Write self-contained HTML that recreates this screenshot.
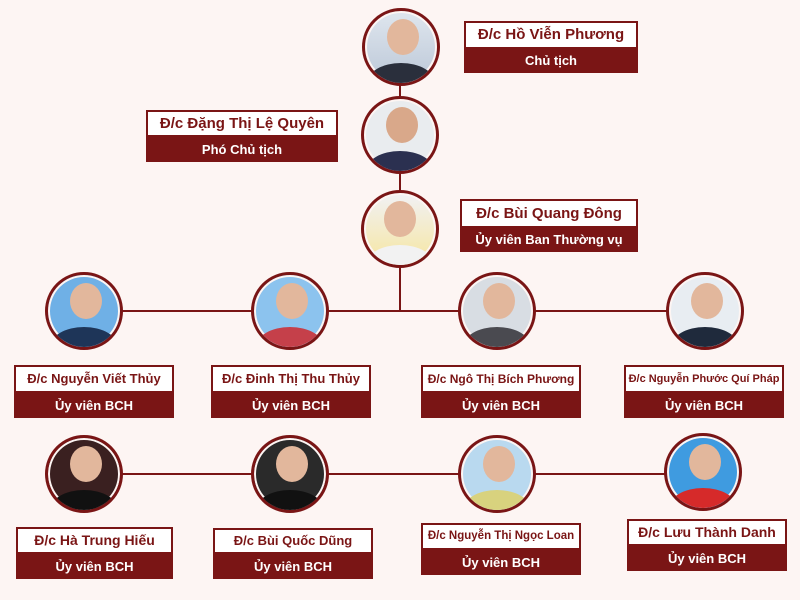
<!DOCTYPE html>
<html><head><meta charset="utf-8"><style>
body{margin:0;width:800px;height:600px;background:#fdf5f3;position:relative;overflow:hidden;font-family:"Liberation Sans","DejaVu Sans",sans-serif;}
.l{position:absolute;background:#7a1515;}
.c{position:absolute;width:72px;height:72px;border:3px solid #7a1515;border-radius:50%;box-shadow:0 0 0 2px #fdf5f3 inset;overflow:hidden}
.c i{position:absolute;left:14px;top:8px;width:32px;height:36px;border-radius:50%;background:#e2b79c}
.c b{position:absolute;left:2px;right:2px;bottom:-20px;height:40px;border-radius:50% 50% 0 0;background:#2a2f3c}
.lb{position:absolute;}
.lb .n{background:#fff;border:2px solid #7a1515;color:#7a1515;font-weight:bold;text-align:center;box-sizing:border-box;white-space:nowrap;font-size:14px;}
.lb .r{background:#7a1515;color:#fff;font-weight:bold;text-align:center;font-size:13px;}
</style></head><body>
<div class="l" style="left:399px;top:80px;width:2px;height:232px"></div>
<div class="l" style="left:84px;top:310px;width:621px;height:2px"></div>
<div class="l" style="left:84px;top:473px;width:619px;height:2px"></div>

<div class="c" style="left:362px;top:8px;background:linear-gradient(#dfe6ee,#bcc8d8)"><i style="left:22px"></i><b></b></div>
<div class="c" style="left:361px;top:96px;background:#e9ecef"><i style="left:22px;background:#d9a88a"></i><b style="background:#2b3050"></b></div>
<div class="c" style="left:361px;top:190px;background:linear-gradient(#f1f1f5,#f6e6a0)"><i style="left:20px"></i><b style="background:#f2f2f2"></b></div>

<div class="c" style="left:45px;top:272px;background:#6fb0e6"><i style="left:22px"></i><b style="background:#1e3558"></b></div>
<div class="c" style="left:251px;top:272px;background:#8cc3ee"><i style="left:22px"></i><b style="background:#c5404a"></b></div>
<div class="c" style="left:458px;top:272px;background:#d8dde3"><i style="left:22px"></i><b style="background:#4a4a50"></b></div>
<div class="c" style="left:666px;top:272px;background:#e8edf2"><i style="left:22px"></i><b style="background:#1f2a3c"></b></div>

<div class="c" style="left:45px;top:435px;background:#3a2020"><i style="left:22px"></i><b style="background:#111"></b></div>
<div class="c" style="left:251px;top:435px;background:#2a2a2a"><i style="left:22px"></i><b style="background:#111"></b></div>
<div class="c" style="left:458px;top:435px;background:#b9d9ef"><i style="left:22px"></i><b style="background:#d8d27e"></b></div>
<div class="c" style="left:664px;top:433px;background:#3f9be0"><i style="left:22px"></i><b style="background:#d62a2a"></b></div>

<div class="lb" style="left:464px;top:21px;width:174px"><div class="n" style="height:28px;line-height:24px;font-size:15px">Đ/c Hồ Viễn Phương</div><div class="r" style="height:24px;line-height:24px">Chủ tịch</div></div>
<div class="lb" style="left:146px;top:110px;width:192px"><div class="n" style="height:27px;line-height:23px;font-size:15px">Đ/c Đặng Thị Lệ Quyên</div><div class="r" style="height:25px;line-height:25px">Phó Chủ tịch</div></div>
<div class="lb" style="left:460px;top:199px;width:178px"><div class="n" style="height:29px;line-height:25px;font-size:15px">Đ/c Bùi Quang Đông</div><div class="r" style="height:24px;line-height:24px">Ủy viên Ban Thường vụ</div></div>

<div class="lb" style="left:14px;top:365px;width:160px"><div class="n" style="height:28px;line-height:24px;font-size:13px">Đ/c Nguyễn Viết Thủy</div><div class="r" style="height:25px;line-height:25px">Ủy viên BCH</div></div>
<div class="lb" style="left:211px;top:365px;width:160px"><div class="n" style="height:28px;line-height:24px;font-size:13px">Đ/c Đinh Thị Thu Thủy</div><div class="r" style="height:25px;line-height:25px">Ủy viên BCH</div></div>
<div class="lb" style="left:421px;top:365px;width:160px"><div class="n" style="height:28px;line-height:24px;font-size:12px">Đ/c Ngô Thị Bích Phương</div><div class="r" style="height:25px;line-height:25px">Ủy viên BCH</div></div>
<div class="lb" style="left:624px;top:365px;width:160px"><div class="n" style="height:28px;line-height:24px;font-size:11px">Đ/c Nguyễn Phước Quí Pháp</div><div class="r" style="height:25px;line-height:25px">Ủy viên BCH</div></div>

<div class="lb" style="left:16px;top:527px;width:157px"><div class="n" style="height:27px;line-height:23px;font-size:14px">Đ/c Hà Trung Hiếu</div><div class="r" style="height:25px;line-height:25px">Ủy viên BCH</div></div>
<div class="lb" style="left:213px;top:528px;width:160px"><div class="n" style="height:26px;line-height:22px;font-size:13px">Đ/c Bùi Quốc Dũng</div><div class="r" style="height:25px;line-height:25px">Ủy viên BCH</div></div>
<div class="lb" style="left:421px;top:523px;width:160px"><div class="n" style="height:27px;line-height:23px;font-size:11.5px">Đ/c Nguyễn Thị Ngọc Loan</div><div class="r" style="height:25px;line-height:25px">Ủy viên BCH</div></div>
<div class="lb" style="left:627px;top:519px;width:160px"><div class="n" style="height:27px;line-height:23px;font-size:14px">Đ/c Lưu Thành Danh</div><div class="r" style="height:25px;line-height:25px">Ủy viên BCH</div></div>
</body></html>
